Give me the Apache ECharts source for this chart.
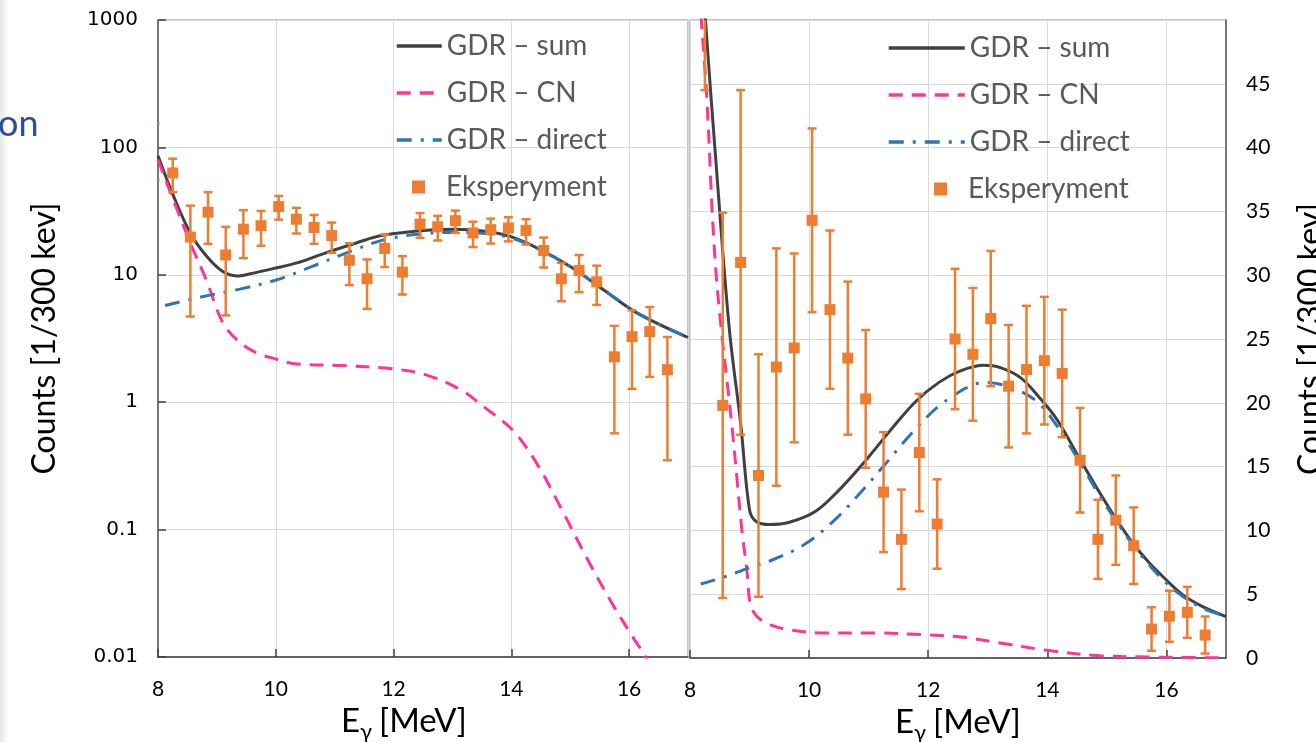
<!DOCTYPE html>
<html><head><meta charset="utf-8">
<script src="https://cdn.jsdelivr.net/npm/echarts@6/dist/echarts.min.js"></script>
<style>html,body{margin:0;padding:0;background:#fff;}#c{width:1316px;height:742px;}</style>
</head><body><div id="c"></div>
<script>
// ---------- data ----------
const expX = [7.95, 8.25, 8.55, 8.85, 9.15, 9.45, 9.75, 10.05, 10.35, 10.65, 10.95, 11.25, 11.55, 11.85, 12.15, 12.45, 12.75, 13.05, 13.35, 13.65, 13.95, 14.25, 14.55, 14.85, 15.15, 15.45, 15.75, 16.05, 16.35, 16.65];
const expY = [105, 63, 19.8, 31.0, 14.3, 22.8, 24.3, 34.3, 27.3, 23.5, 20.3, 13.0, 9.3, 16.1, 10.5, 25.0, 23.8, 26.6, 21.3, 22.6, 23.3, 22.3, 15.5, 9.3, 10.8, 8.8, 2.27, 3.27, 3.58, 1.8];
const expErr = [50, 18.5, 15.1, 13.5, 9.5, 9.3, 7.4, 7.2, 6.2, 6.0, 5.4, 4.7, 3.9, 4.6, 3.5, 5.5, 5.2, 5.3, 4.8, 5.0, 5.0, 5.0, 4.1, 3.1, 3.5, 3.0, 1.7, 2.0, 2.0, 1.45];

const leftSumX = [8.0, 8.25, 8.55, 8.83, 9.1, 9.34, 9.57, 10.0, 10.36, 10.8, 11.27, 11.72, 12.17, 12.63, 13.02, 13.59, 13.98, 14.44, 15.0, 15.57, 16.14, 17.0];
const leftSumY = [86, 43, 21.2, 13.9, 10.6, 9.8, 10.2, 11.3, 12.4, 14.6, 17.2, 20.0, 21.5, 22.5, 22.8, 21.9, 20.0, 16.2, 11.6, 7.6, 5.0, 3.22];
const leftCNX = [8.0, 8.26, 8.55, 8.83, 9.08, 9.34, 9.68, 10.02, 10.33, 11.09, 11.97, 12.55, 13.14, 13.6, 14.02, 14.43, 14.89, 15.3, 15.71, 16.06, 16.24, 16.5];
const leftCNY = [80, 38.8, 17.7, 8.9, 4.4, 3.08, 2.43, 2.17, 2.0, 1.94, 1.83, 1.64, 1.25, 0.87, 0.605, 0.332, 0.134, 0.0577, 0.0264, 0.0144, 0.0108, 0.0068];
const leftDirectX = [8.12, 8.77, 9.39, 10.02, 10.61, 11.26, 11.83, 12.45, 13.0, 13.6, 14.0, 14.44, 15.0, 15.57, 16.14, 17.0];
const leftDirectY = [5.74, 6.76, 7.72, 9.14, 11.6, 15.2, 18.8, 20.9, 21.5, 21.0, 19.4, 16.1, 11.6, 7.6, 5.0, 3.22];

const rightSumX = [8.2, 8.26, 8.45, 8.66, 8.85, 9.0, 9.11, 9.33, 9.67, 10.11, 10.51, 10.9, 11.34, 11.79, 12.18, 12.54, 12.93, 13.21, 13.55, 13.85, 14.16, 14.55, 14.88, 15.16, 15.43, 15.71, 15.99, 16.27, 16.6, 17.0];
const rightSumY = [55, 50, 38, 25.8, 18.4, 11.6, 10.7, 10.46, 10.64, 11.5, 13.2, 15.2, 17.7, 20.1, 21.6, 22.5, 22.94, 22.76, 21.97, 20.5, 18.7, 15.56, 12.95, 10.86, 9.03, 7.46, 6.15, 4.97, 4.05, 3.25];
const rightCNX = [8.15, 8.19, 8.26, 8.32, 8.37, 8.44, 8.54, 8.62, 8.71, 8.79, 8.87, 8.96, 9.01, 9.12, 9.35, 9.68, 10.23, 11.07, 11.9, 12.54, 13.21, 13.99, 14.88, 15.71, 16.5, 17.0];
const rightCNY = [54, 50, 45.6, 40.4, 35.2, 30, 25.1, 21.8, 17.9, 14.0, 10.07, 6.67, 4.3, 3.27, 2.6, 2.2, 1.96, 1.96, 1.83, 1.65, 1.18, 0.6, 0.18, 0.08, 0.03, 0.02];
const rightDirectX = [8.18, 8.56, 8.97, 9.39, 9.94, 10.44, 10.86, 11.28, 11.7, 12.14, 12.47, 12.66, 12.93, 13.21, 13.55, 13.85, 14.16, 14.55, 14.88, 15.16, 15.43, 15.71, 15.99, 16.27, 16.6, 17.0];
const rightDirectY = [5.8, 6.33, 7.03, 7.7, 8.95, 10.86, 12.95, 15.2, 17.5, 19.6, 20.7, 21.2, 21.6, 21.45, 20.9, 20.0, 18.2, 15.3, 12.7, 10.7, 8.9, 7.3, 5.9, 4.84, 3.92, 3.25];

const seriesNames = ['GDR \u2013 sum', 'GDR \u2013 CN', 'GDR \u2013 direct', 'Eksperyment'];
const xAxisTitle = '{a|E}{b|\u03b3}{a|[MeV]}';
const yAxisTitle = 'Counts [1/300 kev]';

// ---------- helpers ----------
const zip = (xs, ys) => xs.map((x, i) => [x, ys[i]]);
const expData = expX.map((x, i) => [x, expY[i], expErr[i]]);
const CAL = 'Lato, "Open Sans", sans-serif';
const C_SUM = '#404040', C_CN = '#FF3399', C_DIR = '#2E75B6', C_EXP = '#ED7D31';
const DASH_CN = [14, 9], DASH_DIR = [15, 9, 3, 9];

function lineSeries(name, data, gi, color, type) {
  return {
    type: 'line', name, data, xAxisIndex: gi, yAxisIndex: gi,
    smooth: 0.35, symbol: 'none', showSymbol: false, clip: true,
    lineStyle: { color, width: 3, type }, itemStyle: { color }, z: 3,
    emphasis: { disabled: true }
  };
}
function errSeries(gi) {
  return {
    type: 'custom', name: 'err' + gi, xAxisIndex: gi, yAxisIndex: gi, clip: true, z: 4,
    data: expData, silent: true,
    renderItem: (params, api) => {
      const x = api.value(0), y = api.value(1), e = api.value(2);
      const t = api.coord([x, y + e]), b = api.coord([x, y - e]);
      const cw = 4.5, st = { stroke: C_EXP, lineWidth: 2.5 };
      return { type: 'group', children: [
        { type: 'line', shape: { x1: t[0], y1: t[1], x2: b[0], y2: b[1] }, style: st },
        { type: 'line', shape: { x1: t[0] - cw, y1: t[1], x2: t[0] + cw, y2: t[1] }, style: st },
        { type: 'line', shape: { x1: b[0] - cw, y1: b[1], x2: b[0] + cw, y2: b[1] }, style: st }
      ]};
    }
  };
}
function expSeries(gi) {
  return {
    type: 'scatter', name: seriesNames[3], xAxisIndex: gi, yAxisIndex: gi, z: 5,
    data: expData.map(d => [d[0], d[1]]), symbol: 'rect', symbolSize: 11,
    itemStyle: { color: C_EXP, opacity: 1 }, clip: true, emphasis: { disabled: true }
  };
}
function xAxis(gi, padRight) {
  return {
    type: 'value', gridIndex: gi, min: 8, max: 17, interval: 2,
    axisLine: { show: true, lineStyle: { color: '#404040', width: 1.5 } },
    axisTick: { show: true, inside: true, length: 8, lineStyle: { color: '#404040', width: 1.5 } },
    axisLabel: { fontSize: 21, fontFamily: CAL, color: '#000', margin: 22, showMaxLabel: false },
    splitLine: { show: true, lineStyle: { color: '#d9d9d9', width: 1 } },
    name: xAxisTitle, nameLocation: 'middle', nameGap: 35,
    nameTextStyle: { fontFamily: CAL, color: '#000', padding: [0, padRight, 0, 0],
      rich: {
        a: { fontSize: 33, fontFamily: CAL, color: '#000', lineHeight: 38, verticalAlign: 'top' },
        b: { fontSize: 22, fontFamily: CAL, color: '#000', lineHeight: 38, verticalAlign: 'bottom', padding: [0, 7, 0, 0] }
      } }
  };
}

const legendText = { color: '#595959', fontSize: 28, fontFamily: CAL, lineHeight: 30 };
const legendLine = { width: 3.5 };
const hideSym = { opacity: 0 };
const lineItems = seriesNames.slice(0, 3).map(n => ({ name: n, itemStyle: hideSym }));
const expItem = { name: seriesNames[3], icon: 'path://M0 0H10V10H0Z' };

const option = {
  backgroundColor: '#ffffff',
  animation: false,
  grid: [
    { left: 158, top: 20, width: 530, height: 637, show: true, borderColor: '#8c8c8c', borderWidth: 1, outerBoundsMode: 'none', containLabel: false },
    { left: 690, top: 20, width: 536, height: 638, show: true, borderColor: '#8c8c8c', borderWidth: 1, outerBoundsMode: 'none', containLabel: false }
  ],
  xAxis: [xAxis(0, 38), xAxis(1, 0)],
  yAxis: [
    { type: 'log', logBase: 10, gridIndex: 0, min: 0.01, max: 1000,
      axisLine: { show: true, lineStyle: { color: '#595959', width: 1.5 } },
      axisTick: { show: true, inside: true, length: 8, lineStyle: { color: '#404040', width: 1.5 } },
      axisLabel: { fontSize: 20, fontFamily: '"DejaVu Sans", sans-serif', color: '#000', margin: 20,
        formatter: v => String(parseFloat(Number(v).toPrecision(1))) },
      splitLine: { show: true, lineStyle: { color: '#d9d9d9', width: 1 } },
      name: yAxisTitle, nameLocation: 'middle', nameRotate: 90, nameGap: 97,
      nameTextStyle: { fontSize: 32, fontFamily: CAL, color: '#000' } },
    { type: 'value', gridIndex: 1, min: 0, max: 50, interval: 5, position: 'right',
      axisLine: { show: true, lineStyle: { color: '#595959', width: 1.5 } },
      axisTick: { show: false },
      axisLabel: { fontSize: 21, fontFamily: CAL, color: '#000', margin: 20, showMaxLabel: false },
      splitLine: { show: true, lineStyle: { color: '#d9d9d9', width: 1 } },
      name: yAxisTitle, nameLocation: 'middle', nameRotate: 90, nameGap: 69,
      nameTextStyle: { fontSize: 32, fontFamily: CAL, color: '#000' } }
  ],
  legend: [
    { orient: 'vertical', left: 395, top: 31, itemWidth: 45, itemHeight: 12, itemGap: 17,
      data: lineItems, textStyle: legendText, lineStyle: legendLine, selectedMode: false, padding: 0 },
    { orient: 'vertical', left: 412, top: 172, itemWidth: 45, itemHeight: 13, itemGap: 17,
      data: [expItem], textStyle: legendText, selectedMode: false, padding: 0 },
    { orient: 'vertical', left: 887, top: 33, itemWidth: 76, itemHeight: 12, itemGap: 17,
      data: lineItems, textStyle: legendText, lineStyle: legendLine, selectedMode: false, padding: 0 },
    { orient: 'vertical', left: 934, top: 174, itemWidth: 45, itemHeight: 13, itemGap: 17,
      data: [expItem], textStyle: legendText, selectedMode: false, padding: 0 }
  ],
  graphic: [
    { type: 'rect', left: 0, top: 0, shape: { width: 7, height: 742 },
      style: { fill: new echarts.graphic.LinearGradient(0, 0, 1, 0, [{ offset: 0, color: '#e6e6e6' }, { offset: 1, color: '#fafafa' }]) }, z: -1 },
    { type: 'text', left: -2, top: 106, style: { text: 'on', fill: '#2F4C9F', fontSize: 36, fontFamily: CAL } }
  ],
  series: [
    lineSeries(seriesNames[0], zip(leftSumX, leftSumY), 0, C_SUM, 'solid'),
    lineSeries(seriesNames[1], zip(leftCNX, leftCNY), 0, C_CN, DASH_CN),
    lineSeries(seriesNames[2], zip(leftDirectX, leftDirectY), 0, C_DIR, DASH_DIR),
    errSeries(0), expSeries(0),
    lineSeries(seriesNames[0], zip(rightSumX, rightSumY), 1, C_SUM, 'solid'),
    lineSeries(seriesNames[1], zip(rightCNX, rightCNY), 1, C_CN, DASH_CN),
    lineSeries(seriesNames[2], zip(rightDirectX, rightDirectY), 1, C_DIR, DASH_DIR),
    errSeries(1), expSeries(1)
  ]
};
const chart = echarts.init(document.getElementById('c'), null, { renderer: 'canvas' });
chart.setOption(option);
</script></body></html>
